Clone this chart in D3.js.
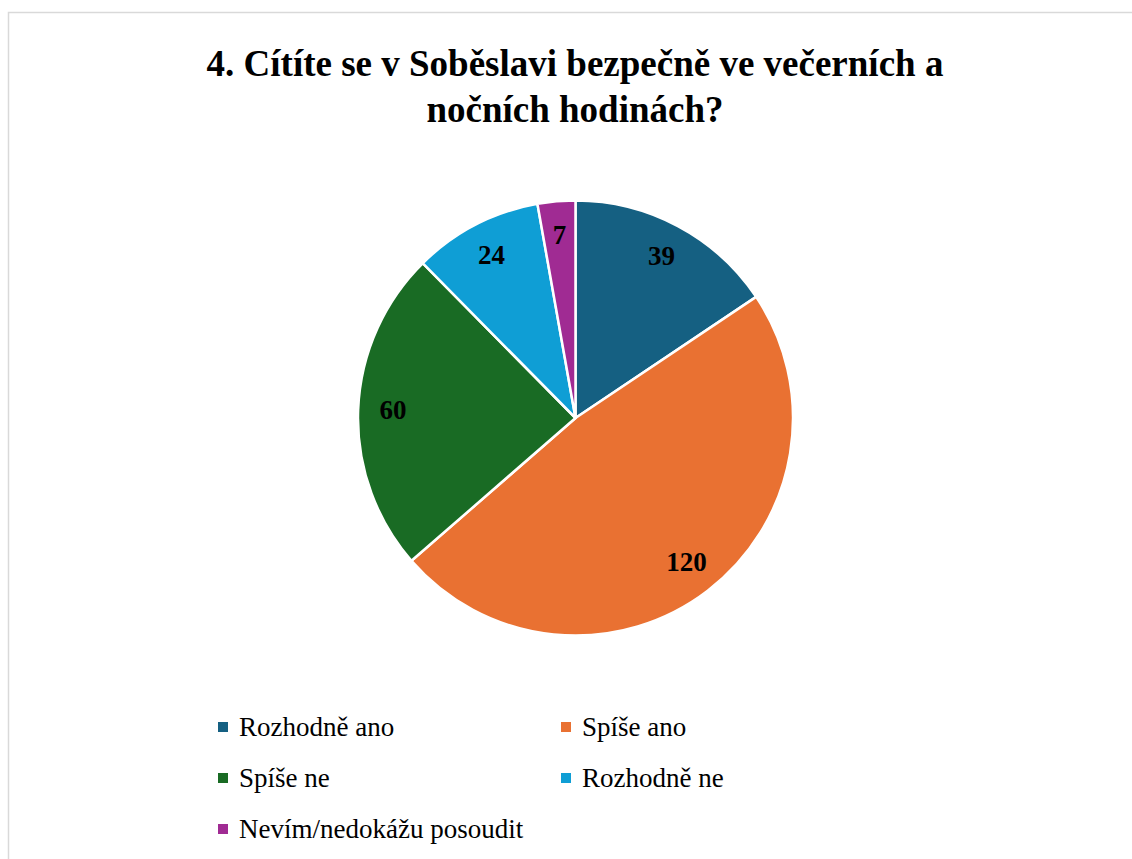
<!DOCTYPE html>
<html lang="cs">
<head>
<meta charset="utf-8">
<script src="https://cdn.jsdelivr.net/npm/d3@7"></script>
<style>
  body { margin: 0; background: #fff; }
  svg text { font-family: "Liberation Serif", "Times New Roman", serif !important; }
</style>
</head>
<body>
<div id="chart"></div>
<script>
// Data
const categories = ["Rozhodně ano", "Spíše ano", "Spíše ne", "Rozhodně ne", "Nevím/nedokážu posoudit"];
const values = [39, 120, 60, 24, 7];
const colors = ["#156082", "#E97132", "#196B24", "#0F9ED5", "#A02B93"];
const titleLines = ["4. Cítíte se v Soběslavi bezpečně ve večerních a", "nočních hodinách?"];

const width = 1132;
const height = 859;

const svg = d3.select("#chart")
    .append("svg")
    .attr("width", width)
    .attr("height", height);

// Chart border
svg.append("rect")
    .attr("x", 8.5)
    .attr("y", 12.5)
    .attr("width", width + 20)
    .attr("height", height + 20)
    .attr("fill", "#fff")
    .attr("stroke", "#d9d9d9")
    .attr("stroke-width", 1.5);

// Title
svg.selectAll("text.title")
    .data(titleLines)
    .enter()
    .append("text")
    .attr("class", "title")
    .attr("x", 575)
    .attr("y", (d, i) => 76 + i * 46)
    .attr("text-anchor", "middle")
    .attr("font-family", "Liberation Serif")
    .attr("font-weight", "bold")
    .attr("font-size", 37)
    .text(d => d);

// Pie
const cx = 575.5, cy = 418, radius = 217.5;

const pie = d3.pie().sort(null).value(d => d);
const arc = d3.arc().innerRadius(0).outerRadius(radius);
const labelArc = d3.arc().innerRadius(radius * 0.84).outerRadius(radius * 0.84);

const g = svg.append("g")
    .attr("transform", `translate(${cx},${cy})`);

const arcs = pie(values);

g.selectAll("path")
    .data(arcs)
    .enter()
    .append("path")
    .attr("d", arc)
    .attr("fill", (d, i) => colors[i])
    .attr("stroke", "#fff")
    .attr("stroke-width", 2.5)
    .attr("stroke-linejoin", "round");

g.selectAll("text.label")
    .data(arcs)
    .enter()
    .append("text")
    .attr("class", "label")
    .attr("transform", d => `translate(${labelArc.centroid(d)})`)
    .attr("text-anchor", "middle")
    .attr("dy", "0.3em")
    .attr("font-family", "Liberation Serif")
    .attr("font-weight", "bold")
    .attr("font-size", 27)
    .text(d => d.data);

// Legend
const colX = [218, 561];
const rowY = [727, 778, 829];

svg.selectAll("rect.key")
    .data(categories)
    .enter()
    .append("rect")
    .attr("class", "key")
    .attr("x", (d, i) => colX[i % 2])
    .attr("y", (d, i) => rowY[Math.floor(i / 2)] - 5)
    .attr("width", 10)
    .attr("height", 10)
    .attr("fill", (d, i) => colors[i]);

svg.selectAll("text.key")
    .data(categories)
    .enter()
    .append("text")
    .attr("class", "key")
    .attr("x", (d, i) => colX[i % 2] + 21)
    .attr("y", (d, i) => rowY[Math.floor(i / 2)] + 9)
    .attr("font-family", "Liberation Serif")
    .attr("font-size", 27)
    .text(d => d);
</script>
</body>
</html>
